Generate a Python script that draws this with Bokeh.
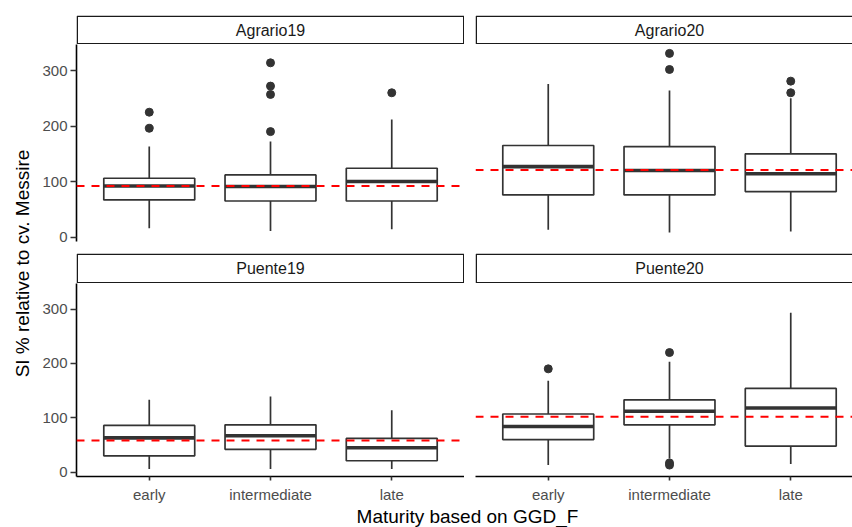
from bokeh.plotting import figure
from bokeh.layouts import row, column
from bokeh.models import Range1d, LinearAxis, FixedTicker, Span, ColumnDataSource
from bokeh.core.properties import value
from bokeh.embed import file_html
from bokeh.resources import INLINE

# ---------------- data ----------------
categories = ["early", "intermediate", "late"]
environments = ["Agrario19", "Agrario20", "Puente19", "Puente20"]
y_ticks = [0, 100, 200, 300]

agrario19_lower = [16, 11, 14]
agrario19_q1 = [67, 65, 65]
agrario19_median = [92, 91, 100]
agrario19_q3 = [106, 112, 124]
agrario19_upper = [163, 172, 212]
agrario19_outliers = [[225, 196], [314, 272, 257, 190], [260]]
agrario19_reference = 92

agrario20_lower = [13, 8, 10]
agrario20_q1 = [76, 76, 82]
agrario20_median = [127, 120, 114]
agrario20_q3 = [165, 163, 150]
agrario20_upper = [276, 264, 250]
agrario20_outliers = [[], [331, 302], [281, 260]]
agrario20_reference = 121

puente19_lower = [6, 6, 6]
puente19_q1 = [30, 42, 21]
puente19_median = [63, 67, 45]
puente19_q3 = [86, 87, 62]
puente19_upper = [133, 139, 114]
puente19_outliers = [[], [], []]
puente19_reference = 58

puente20_lower = [13, 25, 15]
puente20_q1 = [60, 87, 48]
puente20_median = [84, 112, 118]
puente20_q3 = [107, 133, 154]
puente20_upper = [168, 203, 293]
puente20_outliers = [[190], [220, 17, 13], []]
puente20_reference = 102

x_title = "Maturity based on GGD_F"
y_title = "SI % relative to cv. Messire"

# ---------------- styling / layout ----------------
FONT = "Liberation Sans"
BOX = "#333333"
BOX_W = 0.75
Y_RANGE = (-8, 347)
X_START = 0.4
X_SPAN = 3.2

YT_W = 36
LEFT_BORDER = 40
LEFT_FRAME = 388
RIGHT_BORDER = 11
RIGHT_FRAME = 377
UNITS_PER_PX = X_SPAN / LEFT_FRAME

STRIP_TOP_H, STRIP_TOP_BORDER = 29, 15
PANEL_TOP_H, PANEL_TOP_BOTTOM = 197, 12
STRIP_BOT_H = 30
PANEL_BOT_H, PANEL_BOT_BOTTOM = 198, 24
XT_H = 22
TOTAL_W = YT_W + LEFT_BORDER + LEFT_FRAME + RIGHT_BORDER + RIGHT_FRAME


def base_fig(width, height, xr, yr, left=0, right=0, top=0, bottom=0):
    f = figure(width=width, height=height, x_range=xr, y_range=yr,
               x_axis_type=None, y_axis_type=None, toolbar_location=None,
               output_backend="svg", min_border_left=left, min_border_right=right,
               min_border_top=top, min_border_bottom=bottom)
    f.outline_line_color = None
    f.background_fill_color = "white"
    f.border_fill_color = "white"
    return f


def style_axis(ax):
    ax.axis_line_color = "black"
    ax.axis_line_width = 1.6
    ax.major_tick_line_color = BOX
    ax.major_tick_line_width = 1.6
    ax.major_tick_out = 6
    ax.major_tick_in = 0
    ax.minor_tick_out = 0
    ax.minor_tick_in = 0
    ax.major_label_text_font = FONT
    ax.major_label_text_font_size = "15px"
    ax.major_label_text_color = "#4D4D4D"
    ax.major_label_standoff = 3


def make_strip(label, border_left, frame_w, frame_h, border_top, clipped):
    s = base_fig(border_left + frame_w, border_top + frame_h,
                 Range1d(0, frame_w), Range1d(0, frame_h), left=border_left, top=border_top)
    right = frame_w + 20 if clipped else frame_w - 0.75
    s.quad(left=[0.75], right=[right], bottom=[0.75], top=[frame_h - 0.75],
           fill_color="white", line_color="#1A1A1A", line_width=1.5)
    tx = (categories.index("intermediate") + 1 - X_START) / UNITS_PER_PX
    s.text(x=[tx], y=[frame_h / 2], text=[label], text_align="center",
           text_baseline="middle", text_font=value(FONT), text_font_size="16px",
           text_color="#1A1A1A")
    return s


def make_panel(lower, q1, med, q3, upper, outliers, ref, border_left, frame_w,
               frame_h, border_bottom, y_axis, x_axis):
    x_end = X_START + frame_w * UNITS_PER_PX
    p = base_fig(border_left + frame_w, frame_h + border_bottom,
                 Range1d(X_START, x_end), Range1d(*Y_RANGE),
                 left=border_left, bottom=border_bottom)
    xs = [i + 1 for i in range(len(categories))]
    src = ColumnDataSource(dict(
        x=xs, lower=lower, q1=q1, med=med, q3=q3, upper=upper,
        xl=[x - BOX_W / 2 for x in xs], xr=[x + BOX_W / 2 for x in xs]))
    p.segment(x0="x", y0="lower", x1="x", y1="q1", source=src, line_color=BOX, line_width=1.7)
    p.segment(x0="x", y0="q3", x1="x", y1="upper", source=src, line_color=BOX, line_width=1.7)
    p.vbar(x="x", width=BOX_W, bottom="q1", top="q3", source=src,
           fill_color="white", line_color=BOX, line_width=1.7)
    p.segment(x0="xl", y0="med", x1="xr", y1="med", source=src, line_color=BOX, line_width=3.6)
    ox, oy = [], []
    for x, vals in zip(xs, outliers):
        for v in vals:
            ox.append(x)
            oy.append(v)
    if ox:
        p.scatter(ox, oy, size=8, color=BOX)
    p.add_layout(Span(location=ref, dimension="width", line_color="#FF0000",
                      line_dash="8 7", line_width=2))
    if y_axis:
        ax = LinearAxis(ticker=FixedTicker(ticks=y_ticks, minor_ticks=[]))
        style_axis(ax)
        p.add_layout(ax, "left")
    if x_axis:
        ax = LinearAxis(ticker=FixedTicker(ticks=xs, minor_ticks=[]),
                        major_label_overrides={x: c for x, c in zip(xs, categories)})
        style_axis(ax)
        ax.major_tick_out = 4
        ax.major_label_standoff = 5
        p.add_layout(ax, "below")
    return p


stats = {
    "Agrario19": (agrario19_lower, agrario19_q1, agrario19_median, agrario19_q3,
                  agrario19_upper, agrario19_outliers, agrario19_reference),
    "Agrario20": (agrario20_lower, agrario20_q1, agrario20_median, agrario20_q3,
                  agrario20_upper, agrario20_outliers, agrario20_reference),
    "Puente19": (puente19_lower, puente19_q1, puente19_median, puente19_q3,
                 puente19_upper, puente19_outliers, puente19_reference),
    "Puente20": (puente20_lower, puente20_q1, puente20_median, puente20_q3,
                 puente20_upper, puente20_outliers, puente20_reference),
}

left_col = column(
    make_strip("Agrario19", LEFT_BORDER, LEFT_FRAME, STRIP_TOP_H, STRIP_TOP_BORDER, False),
    make_panel(*stats["Agrario19"], LEFT_BORDER, LEFT_FRAME, PANEL_TOP_H, PANEL_TOP_BOTTOM, True, False),
    make_strip("Puente19", LEFT_BORDER, LEFT_FRAME, STRIP_BOT_H, 0, False),
    make_panel(*stats["Puente19"], LEFT_BORDER, LEFT_FRAME, PANEL_BOT_H, PANEL_BOT_BOTTOM, True, True),
)
right_col = column(
    make_strip("Agrario20", RIGHT_BORDER, RIGHT_FRAME, STRIP_TOP_H, STRIP_TOP_BORDER, True),
    make_panel(*stats["Agrario20"], RIGHT_BORDER, RIGHT_FRAME, PANEL_TOP_H, PANEL_TOP_BOTTOM, False, False),
    make_strip("Puente20", RIGHT_BORDER, RIGHT_FRAME, STRIP_BOT_H, 0, True),
    make_panel(*stats["Puente20"], RIGHT_BORDER, RIGHT_FRAME, PANEL_BOT_H, PANEL_BOT_BOTTOM, False, True),
)

body_h = STRIP_TOP_BORDER + STRIP_TOP_H + PANEL_TOP_H + PANEL_TOP_BOTTOM + STRIP_BOT_H + PANEL_BOT_H + PANEL_BOT_BOTTOM
yt = base_fig(YT_W, body_h, Range1d(0, YT_W), Range1d(0, body_h))
yt.text(x=[22], y=[body_h - 263], text=[y_title], angle=1.5707963, text_align="center",
        text_baseline="middle", text_font=value(FONT), text_font_size="19px", text_color="black")

xt = base_fig(TOTAL_W, XT_H, Range1d(0, TOTAL_W), Range1d(0, XT_H))
xt.text(x=[467], y=[1], text=[x_title], text_align="center", text_baseline="bottom",
        text_font=value(FONT), text_font_size="19px", text_color="black")

p = column(row(yt, left_col, right_col), xt)

open("out.html", "w").write(file_html(p, INLINE))
